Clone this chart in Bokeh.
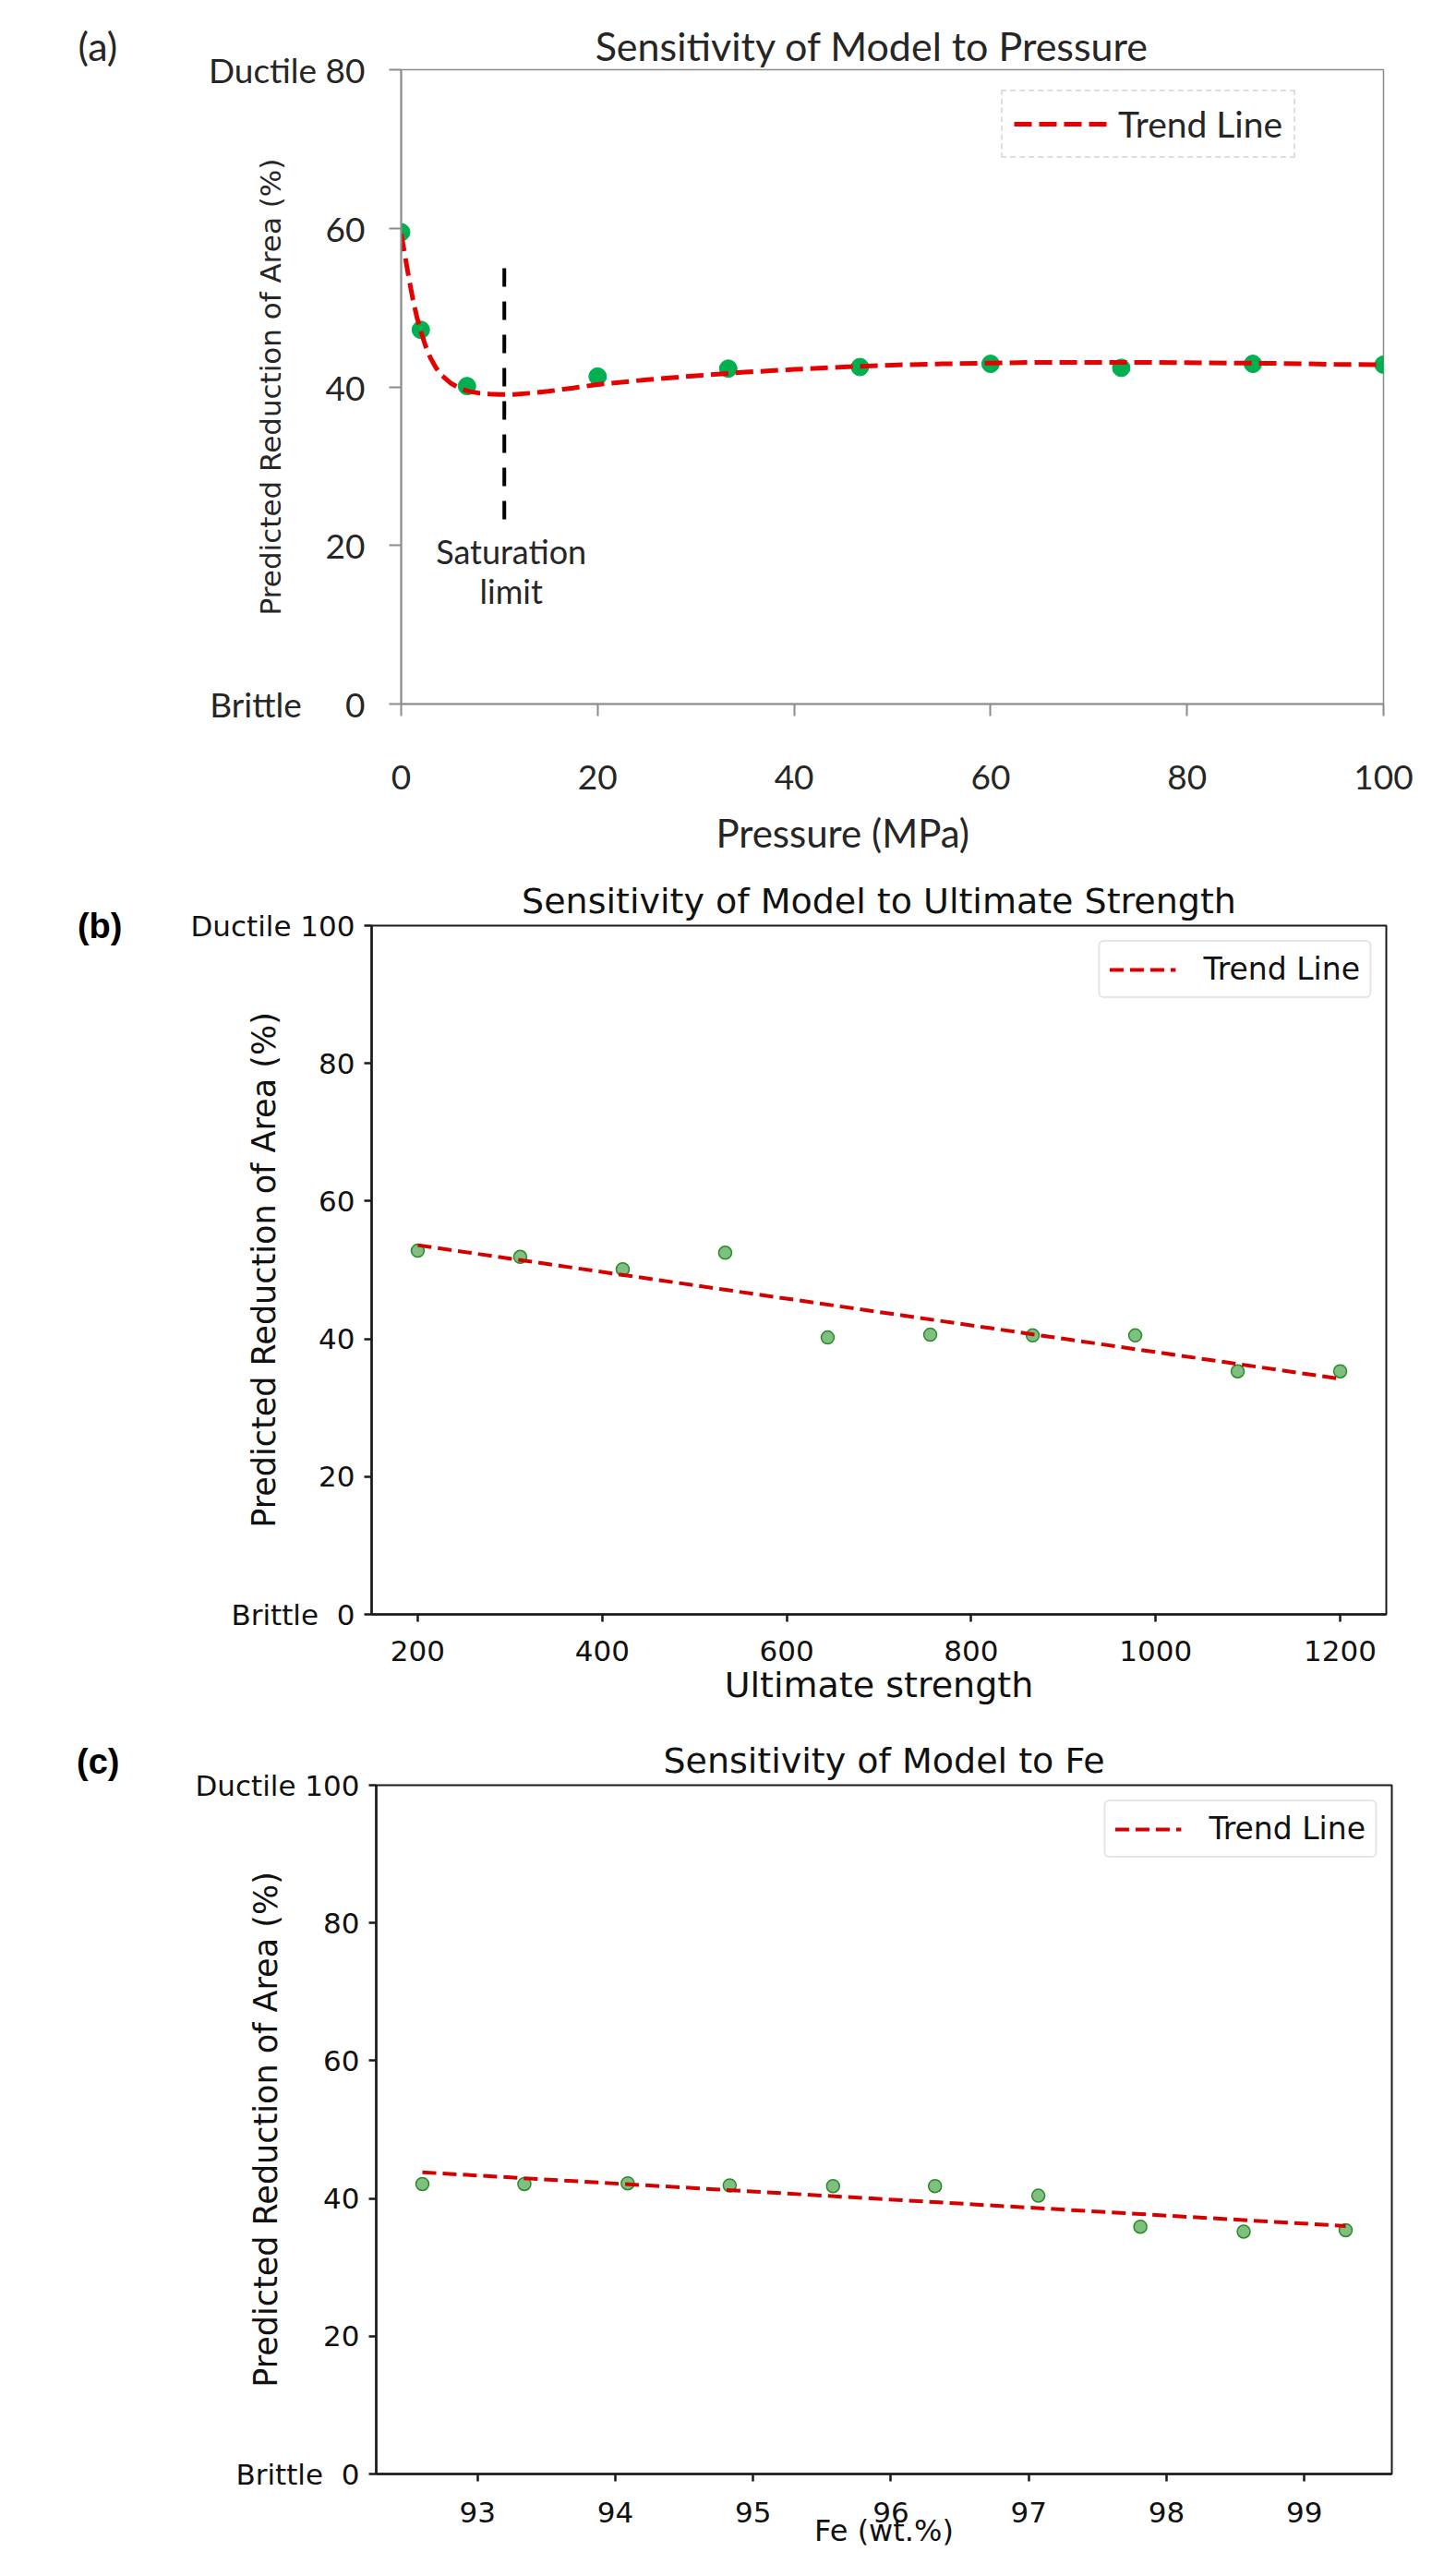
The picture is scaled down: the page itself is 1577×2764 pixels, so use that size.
from bokeh.plotting import figure
from bokeh.models import Range1d, Label, Legend, LegendItem, LinearAxis
from bokeh.layouts import column
from bokeh.embed import file_html
from bokeh.resources import INLINE

# ---------------- data: panel (a) ----------------
pressure_mpa = [0, 2, 6.7, 20, 33.3, 46.7, 60, 73.3, 86.7, 100]
ra_pressure = [59.5, 47.2, 40.1, 41.3, 42.3, 42.5, 42.9, 42.4, 42.9, 42.8]
trend_pressure_x = [0, 0.4, 0.8, 1.2, 1.6, 2.0, 2.5, 3.0, 3.5, 4.0, 5.0, 6.0, 7.0, 8.0,
                    9.0, 10.0, 11.5, 13.0, 15.0, 17.5, 20.0, 25.0, 30.0, 35.0, 40.0,
                    45.0, 50.0, 55.0, 60.0, 65.0, 70.0, 75.0, 80.0, 85.0, 90.0, 95.0, 100.0]
trend_pressure_y = [59.3, 56.5, 53.6, 51.0, 48.8, 47.0, 45.1, 43.6, 42.5, 41.6, 40.5, 39.8,
                    39.4, 39.2, 39.1, 39.05, 39.05, 39.2, 39.45, 39.85, 40.3, 40.9, 41.4,
                    41.85, 42.2, 42.5, 42.75, 42.9, 43.0, 43.1, 43.1, 43.1, 43.05, 43.0,
                    42.95, 42.85, 42.8]
saturation_limit_x = 10.5
saturation_line_y = [23.3, 55.1]
pressure_xticks = [0, 20, 40, 60, 80, 100]
pressure_yticks = [0, 20, 40, 60, 80]

# ---------------- data: panel (b) ----------------
ultimate_strength = [200, 311.1, 422.2, 533.3, 644.4, 755.6, 866.7, 977.8, 1088.9, 1200]
ra_strength = [52.8, 51.9, 50.1, 52.5, 40.2, 40.6, 40.5, 40.5, 35.3, 35.3]
trend_strength_x = [200, 1200]
trend_strength_y = [53.6, 34.2]
strength_xticks = [200, 400, 600, 800, 1000, 1200]
ra_yticks = [0, 20, 40, 60, 80, 100]

# ---------------- data: panel (c) ----------------
fe_wt = [92.6, 93.34, 94.09, 94.83, 95.58, 96.32, 97.07, 97.81, 98.56, 99.3]
ra_fe = [42.1, 42.1, 42.2, 41.9, 41.8, 41.8, 40.4, 35.9, 35.2, 35.4]
trend_fe_x = [92.6, 99.3]
trend_fe_y = [43.8, 36.0]
fe_xticks = [93, 94, 95, 96, 97, 98, 99]

NB = "\u00a0"
HAS_RADIUS = "border_radius" in Legend.properties()


def style_axes(p, color, lw, tick_out, font, size, tcolor):
    p.xgrid.visible = False
    p.ygrid.visible = False
    for ax in (p.xaxis[0], p.yaxis[0]):
        ax.axis_line_color = color
        ax.axis_line_width = lw
        ax.major_tick_line_color = color
        ax.major_tick_line_width = lw
        ax.major_tick_out = tick_out
        ax.major_tick_in = 0
        ax.minor_tick_out = 0
        ax.minor_tick_in = 0
        ax.major_label_text_font = font
        ax.major_label_text_font_size = size
        ax.major_label_text_color = tcolor
        ax.axis_label_text_font_style = "normal"


def drop_xlabels(p, ticks, gap):
    # tick labels pushed below the axis by an empty first line of given height
    p.xaxis.major_label_overrides = {t: "\n" + str(t) for t in ticks}
    p.xaxis.major_label_text_line_height = gap


def panel_tag(p, text, tick, standoff):
    ax = LinearAxis(ticker=[tick], major_label_overrides={tick: text},
                    axis_line_color=None, major_tick_line_color=None,
                    minor_tick_line_color=None, major_tick_out=0, major_tick_in=0,
                    minor_tick_out=0, minor_tick_in=0, major_label_standoff=standoff,
                    major_label_text_font="Liberation Sans", major_label_text_font_style="bold",
                    major_label_text_font_size="38px", major_label_text_color="black")
    p.add_layout(ax, "left")


# ================= panel (a) =================
AC = "#262626"
pa = figure(frame_width=1064, frame_height=687, min_border_left=434, min_border_right=62,
            min_border_top=75, min_border_bottom=168, x_range=Range1d(0, 100),
            y_range=Range1d(0, 80), output_backend="svg", toolbar_location=None,
            title="(a)" + NB * 47 + "Sensitivity of Model to Pressure")
style_axes(pa, "#8c8c8c", 2, 13, "Lato", "37px", AC)
pa.outline_line_color = "#8c8c8c"
pa.outline_line_width = 1.5
pa.xaxis.ticker = pressure_xticks
pa.yaxis.ticker = pressure_yticks
pa.yaxis.major_label_overrides = {80: "Ductile" + NB + "80", 0: "Brittle" + NB * 5 + "0"}
drop_xlabels(pa, pressure_xticks, 0.3)
pa.xaxis.major_label_standoff = 29
pa.yaxis.major_label_standoff = 26
pa.yaxis.axis_label = "Predicted Reduction of Area (%)"
pa.yaxis.axis_label_text_font = "DejaVu Sans"
pa.yaxis.axis_label_text_font_size = "31px"
pa.yaxis.axis_label_text_color = AC
pa.yaxis.axis_label_standoff = -88
pa.xaxis.axis_label = "Pressure (MPa)" + NB * 10
pa.xaxis.axis_label_text_font = "Lato"
pa.xaxis.axis_label_text_font_size = "42px"
pa.xaxis.axis_label_text_color = AC
pa.xaxis.axis_label_standoff = 11
pa.title.text_font = "Lato"
pa.title.text_font_size = "43px"
pa.title.text_font_style = "normal"
pa.title.text_color = AC
pa.title.align = "left"
pa.title.offset = -350
pa.title.standoff = 1

pa.scatter(pressure_mpa, ra_pressure, size=19, fill_color="#00b050", line_color="#00b050")
trend_a = pa.line(trend_pressure_x, trend_pressure_y, line_color="#e60000", line_width=5,
                  line_dash="19 8")
pa.line([saturation_limit_x, saturation_limit_x], saturation_line_y, line_color="black",
        line_width=4, line_dash="20 16")

leg_a = Legend(items=[LegendItem(label="Trend Line", renderers=[trend_a])],
               location=(650, 591), label_text_font="Lato", label_text_font_size="39px",
               label_text_color=AC, glyph_width=105, glyph_height=30, label_standoff=8,
               padding=12, spacing=0, border_line_color="#bfbfbf", border_line_dash="dotted",
               border_line_width=2, background_fill_alpha=1.0, margin=0)
pa.add_layout(leg_a)

for txt, yy in (("Saturation", 19.3), ("limit", 14.3)):
    pa.add_layout(Label(x=11.2, y=yy, text=txt, text_font="Lato", text_font_size="36px",
                        text_align="center", text_baseline="middle", text_color=AC))


# ================= panels (b) and (c) =================
def mpl_panel(xs, ys, tx, ty, xr, xticks, title, left, frame_w, right, top, bottom,
              xlabel, ylab_standoff):
    p = figure(frame_width=frame_w, frame_height=746, min_border_left=left,
               min_border_right=right, min_border_top=top, min_border_bottom=bottom,
               x_range=Range1d(*xr), y_range=Range1d(0, 100), output_backend="svg",
               toolbar_location=None, title=title)
    style_axes(p, "#1a1a1a", 2.5, 8, "DejaVu Sans", "31px", "#111111")
    p.outline_line_color = "#1a1a1a"
    p.outline_line_width = 2
    p.xaxis.ticker = xticks
    p.yaxis.ticker = ra_yticks
    p.yaxis.major_label_overrides = {100: "Ductile" + NB + "100", 0: "Brittle" + NB * 2 + "0"}
    p.yaxis.major_label_standoff = 10
    p.xaxis.major_label_standoff = 4
    p.yaxis.axis_label = "Predicted Reduction of Area (%)"
    p.yaxis.axis_label_text_font = "DejaVu Sans"
    p.yaxis.axis_label_text_font_size = "35px"
    p.yaxis.axis_label_text_color = "#111111"
    p.yaxis.axis_label_standoff = ylab_standoff
    p.xaxis.axis_label = xlabel
    p.xaxis.axis_label_text_font = "DejaVu Sans"
    p.xaxis.axis_label_text_color = "#111111"
    p.title.text_font = "DejaVu Sans"
    p.title.text_font_size = "38px"
    p.title.text_font_style = "normal"
    p.title.text_color = "#111111"
    p.title.align = "center"
    p.title.standoff = 10

    p.scatter(xs, ys, size=14, fill_color="green", fill_alpha=0.5, line_color="#2a8a2a",
              line_width=1.5)
    tr = p.line(tx, ty, line_color="#d40000", line_width=4, line_dash="15 7")
    kw = dict(items=[LegendItem(label="Trend Line", renderers=[tr])], location="top_right",
              margin=16, label_text_font="DejaVu Sans", label_text_font_size="33px",
              label_text_color="#111111", glyph_width=72, glyph_height=30,
              label_standoff=30, padding=10, spacing=0, border_line_color="#cccccc",
              border_line_width=2, background_fill_alpha=1.0)
    if HAS_RADIUS:
        kw["border_radius"] = 6
    p.add_layout(Legend(**kw))
    return p


pb = mpl_panel(ultimate_strength, ra_strength, trend_strength_x, trend_strength_y,
               (150, 1250), strength_xticks, "Sensitivity of Model to Ultimate Strength",
               402, 1099, 59, 72, 107, "Ultimate strength", -103)
drop_xlabels(pb, strength_xticks, 0.25)
pb.xaxis.axis_label_text_font_size = "38px"
pb.xaxis.axis_label_standoff = -6
panel_tag(pb, "(b)", 100, 131)

pc = mpl_panel(fe_wt, ra_fe, trend_fe_x, trend_fe_y, (92.265, 99.635), fe_xticks,
               "Sensitivity of Model to Fe", 407, 1100, 53, 78, 84, "Fe (wt.%)", -100)
drop_xlabels(pc, fe_xticks, 0.33)
pc.xaxis.axis_label_text_font_size = "32px"
pc.xaxis.axis_label_standoff = -20
panel_tag(pc, "(c)\n" + NB, 100, 136)

open("out.html", "w").write(file_html([column(pa), column(pb), column(pc)], INLINE))
